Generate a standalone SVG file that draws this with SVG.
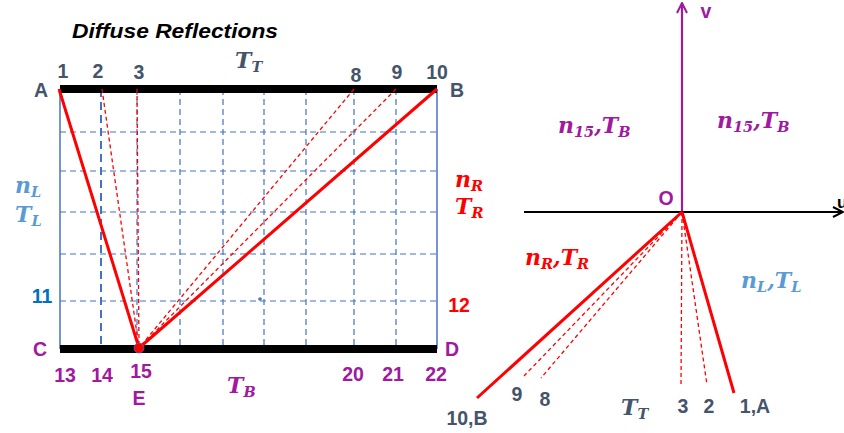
<svg xmlns="http://www.w3.org/2000/svg" width="844" height="433" viewBox="0 0 844 433">
<defs>
<style>
.grid{stroke:#4472C4;stroke-width:1.2;stroke-dasharray:6 4;fill:none}
.border{stroke:#4472C4;stroke-width:1.5;fill:none}
.ray{stroke:#FF0000;stroke-width:3;fill:none}
.rayd{stroke:#FF0000;stroke-width:1.3;stroke-dasharray:4 3;fill:none}
.num{font-family:"Liberation Sans",Arial,sans-serif;font-weight:bold;font-size:19.5px;text-anchor:middle}
.slate{fill:#44546A}
.purple{fill:#A0199F}
.math{font-family:"DejaVu Serif","Liberation Serif",serif;font-weight:bold;font-style:italic;font-size:22px}
.sub{font-size:14.5px}
</style>
<marker id="arrP" viewBox="0 0 12 12" refX="11" refY="6" markerWidth="12" markerHeight="12" markerUnits="userSpaceOnUse" orient="auto">
<path d="M1,1 L11,6 L1,11" fill="none" stroke="#A0199F" stroke-width="2"/>
</marker>
<marker id="arrK" viewBox="0 0 12 12" refX="11" refY="6" markerWidth="12" markerHeight="12" markerUnits="userSpaceOnUse" orient="auto">
<path d="M1,1 L11,6 L1,11" fill="none" stroke="#000" stroke-width="2"/>
</marker>
</defs>
<rect width="844" height="433" fill="#fff"/>

<text x="72" y="38" font-family="Liberation Sans,Arial,sans-serif" font-weight="bold" font-style="italic" font-size="21" textLength="206" lengthAdjust="spacingAndGlyphs">Diffuse Reflections</text>

<g id="grid">
<line class="border" x1="60" y1="89" x2="60" y2="349"/>
<line class="border" x1="437" y1="89" x2="437" y2="349"/>
<line x1="101" y1="89" x2="101" y2="349" stroke="#4472C4" stroke-width="2" stroke-dasharray="8 5"/>
<line class="grid" x1="137" y1="89" x2="137" y2="349"/>
<line class="grid" x1="180" y1="89" x2="180" y2="349"/>
<line class="grid" x1="223" y1="89" x2="223" y2="349"/>
<line class="grid" x1="264" y1="89" x2="264" y2="349"/>
<line class="grid" x1="306" y1="89" x2="306" y2="349"/>
<line class="grid" x1="354" y1="89" x2="354" y2="349"/>
<line class="grid" x1="396" y1="89" x2="396" y2="349"/>
<line class="grid" x1="60" y1="132" x2="437" y2="132"/>
<line class="grid" x1="60" y1="171" x2="437" y2="171"/>
<line class="grid" x1="60" y1="212" x2="437" y2="212"/>
<line class="grid" x1="60" y1="254" x2="437" y2="254"/>
<line class="grid" x1="60" y1="301" x2="437" y2="301"/>
<circle cx="260" cy="299" r="1.8" fill="#4472C4"/>
</g>

<g id="walls">
<rect x="60" y="85" width="377" height="8" fill="#000"/>
<rect x="60" y="345" width="377" height="8" fill="#000"/>
</g>

<g id="connectors">
<line class="ray" x1="59" y1="89" x2="139" y2="348"/>
<line class="ray" x1="139" y1="348" x2="437" y2="89"/>
<line class="rayd" x1="102" y1="89" x2="139" y2="348"/>
<line class="rayd" x1="137" y1="89" x2="139" y2="348"/>
<line class="rayd" x1="354" y1="89" x2="139" y2="348"/>
<line class="rayd" x1="396" y1="89" x2="139" y2="348"/>

<line x1="682" y1="212" x2="682" y2="3" stroke="#A0199F" stroke-width="2.2" marker-end="url(#arrP)"/>
<line x1="524" y1="212" x2="843" y2="212" stroke="#000" stroke-width="2.2" marker-end="url(#arrK)"/>

<line class="ray" x1="682" y1="212" x2="734" y2="393"/>
<line class="rayd" x1="682" y1="212" x2="707" y2="385"/>
<line class="rayd" x1="682" y1="212" x2="681" y2="387"/>
<line class="ray" x1="682" y1="212" x2="477" y2="398"/>
<line class="rayd" x1="682" y1="212" x2="524" y2="376"/>
<line class="rayd" x1="682" y1="212" x2="541" y2="378"/>
</g>

<g id="pointE">
<circle cx="139" cy="348" r="5" fill="#FF0000" stroke="#4472C4" stroke-width="0.8"/>
<text class="num purple" x="139" y="405">E</text>
</g>

<g id="labels-left">
<text class="num slate" x="41" y="97">A</text>
<text class="num slate" x="457" y="97">B</text>
<text class="num slate" x="63" y="78">1</text>
<text class="num slate" x="98" y="78">2</text>
<text class="num slate" x="139" y="79">3</text>
<text class="num slate" x="356" y="82">8</text>
<text class="num slate" x="397" y="79">9</text>
<text class="num slate" x="437" y="79">10</text>
<text class="math slate" x="235" y="68">T<tspan class="sub" dy="4">T</tspan></text>

<text class="math" fill="#5B9BD5" x="15" y="193">n<tspan class="sub" dy="4">L</tspan></text>
<text class="math" fill="#5B9BD5" x="15" y="222">T<tspan class="sub" dy="4">L</tspan></text>
<text class="math" fill="#FF0000" x="455" y="187">n<tspan class="sub" dy="4">R</tspan></text>
<text class="math" fill="#FF0000" x="455" y="214">T<tspan class="sub" dy="4">R</tspan></text>

<text class="num" fill="#0070C0" x="42" y="303">11</text>
<text class="num" fill="#FF0000" x="459" y="312">12</text>

<text class="num purple" x="40" y="356">C</text>
<text class="num purple" x="452" y="356">D</text>
<text class="num purple" x="65" y="382">13</text>
<text class="num purple" x="102" y="382">14</text>
<text class="num purple" x="141" y="378">15</text>
<text class="num purple" x="353" y="381">20</text>
<text class="num purple" x="393" y="381">21</text>
<text class="num purple" x="436" y="381">22</text>
<text class="math purple" x="227" y="393">T<tspan class="sub" dy="4">B</tspan></text>
</g>

<g id="labels-right">
<text class="num purple" x="706" y="18" font-size="17">v</text>
<text x="837" y="208" font-family="Liberation Sans,Arial,sans-serif" font-weight="bold" font-size="17" fill="#000">u</text>
<text class="num purple" x="666" y="205">O</text>
<text class="math purple" x="558" y="133">n<tspan class="sub" dy="4">15</tspan><tspan dy="-4">,T</tspan><tspan class="sub" dy="4">B</tspan></text>
<text class="math purple" x="717" y="128">n<tspan class="sub" dy="4">15</tspan><tspan dy="-4">,T</tspan><tspan class="sub" dy="4">B</tspan></text>
<text class="math" fill="#FF0000" x="525" y="265">n<tspan class="sub" dy="4">R</tspan><tspan dy="-4">,T</tspan><tspan class="sub" dy="4">R</tspan></text>
<text class="math" fill="#5B9BD5" x="741" y="288">n<tspan class="sub" dy="4">L</tspan><tspan dy="-4">,T</tspan><tspan class="sub" dy="4">L</tspan></text>
<text class="num slate" x="517" y="401">9</text>
<text class="num slate" x="545" y="406">8</text>
<text class="num slate" x="467" y="425">10,B</text>
<text class="math slate" x="621" y="415">T<tspan class="sub" dy="4">T</tspan></text>
<text class="num slate" x="683" y="413">3</text>
<text class="num slate" x="709" y="413">2</text>
<text class="num slate" x="755" y="413">1,A</text>
</g>
</svg>
